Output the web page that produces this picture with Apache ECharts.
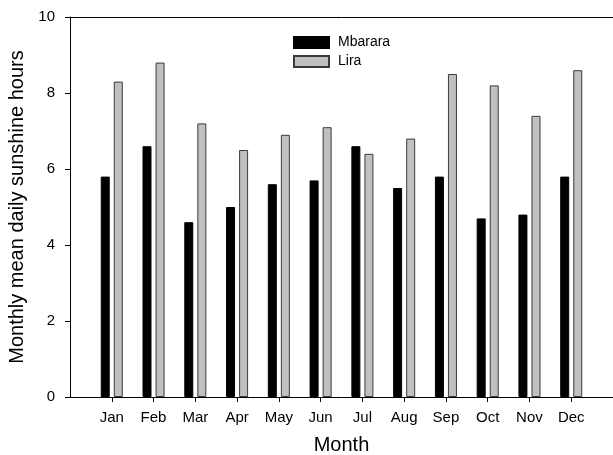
<!DOCTYPE html>
<html>
<head>
<meta charset="utf-8">
<script src="https://cdn.jsdelivr.net/npm/echarts@6/dist/echarts.min.js"></script>
<style>
  html, body { margin: 0; padding: 0; background: #fff; }
  #chart { width: 613px; height: 455px; }
</style>
</head>
<body>
<div id="chart"></div>
<script>
// Monthly mean daily sunshine hours at two stations
const months = ['Jan', 'Feb', 'Mar', 'Apr', 'May', 'Jun', 'Jul', 'Aug', 'Sep', 'Oct', 'Nov', 'Dec'];
const mbarara = [5.8, 6.6, 4.6, 5.0, 5.6, 5.7, 6.6, 5.5, 5.8, 4.7, 4.8, 5.8];
const lira = [8.3, 8.8, 7.2, 6.5, 6.9, 7.1, 6.4, 6.8, 8.5, 8.2, 7.4, 8.6];
const yTicks = [0, 2, 4, 6, 8, 10];

const positions = months.map((m, i) => i + 1);
const font = '"Liberation Sans", Arial, Helvetica, sans-serif';

const chart = echarts.init(document.getElementById('chart'), null, { renderer: 'canvas' });

chart.setOption({
  animation: false,
  backgroundColor: '#fff',
  textStyle: { fontFamily: font },
  grid: { left: 70, right: 0, top: 17, bottom: 58, containLabel: false, outerBoundsMode: 'none' },
  legend: {
    orient: 'vertical',
    left: 293,
    top: 35,
    padding: 0,
    itemWidth: 35,
    itemHeight: 11,
    itemGap: 4,
    icon: 'rect',
    textStyle: { fontFamily: font, fontSize: 14, color: '#000', lineHeight: 15, padding: [0, 0, 0, 4] },
    data: ['Mbarara', 'Lira']
  },
  xAxis: [
    {
      type: 'value',
      min: 0,
      max: positions.length + 1,
      interval: 1,
      name: 'Month',
      nameLocation: 'middle',
      nameGap: 38,
      nameTextStyle: { fontFamily: font, fontSize: 20, color: '#000' },
      splitLine: { show: false },
      axisLine: { lineStyle: { color: '#000', width: 1 } },
      axisTick: { show: true, length: 5, inside: false, customValues: positions, lineStyle: { color: '#000' } },
      axisLabel: {
        customValues: positions,
        formatter: v => months[v - 1] || '',
        fontFamily: font, fontSize: 15, color: '#000', margin: 13
      }
    },
    {
      type: 'value',
      position: 'top',
      min: 0,
      max: positions.length + 1,
      axisLine: { show: true, lineStyle: { color: '#000', width: 1 } },
      axisTick: { show: false },
      axisLabel: { show: false },
      splitLine: { show: false }
    }
  ],
  yAxis: {
    type: 'value',
    min: yTicks[0],
    max: yTicks[yTicks.length - 1],
    interval: 2,
    name: 'Monthly mean daily sunshine hours',
    nameLocation: 'middle',
    nameGap: 43,
    nameTextStyle: { fontFamily: font, fontSize: 20, color: '#000' },
    splitLine: { show: false },
    axisLine: { show: true, lineStyle: { color: '#000', width: 1 } },
    axisTick: { show: true, length: 5, lineStyle: { color: '#000' } },
    axisLabel: { fontFamily: font, fontSize: 15, color: '#000', margin: 15 }
  },
  series: [
    {
      name: 'Mbarara',
      type: 'bar',
      xAxisIndex: 0,
      barWidth: 9,
      barGap: '45%',
      itemStyle: { color: '#000', borderColor: '#000', borderWidth: 1 },
      data: mbarara.map((v, i) => [positions[i], v])
    },
    {
      name: 'Lira',
      type: 'bar',
      xAxisIndex: 0,
      barWidth: 9,
      barGap: '45%',
      itemStyle: { color: '#c0c0c0', borderColor: '#3a3a3a', borderWidth: 1 },
      data: lira.map((v, i) => [positions[i], v])
    }
  ]
});
</script>
</body>
</html>
